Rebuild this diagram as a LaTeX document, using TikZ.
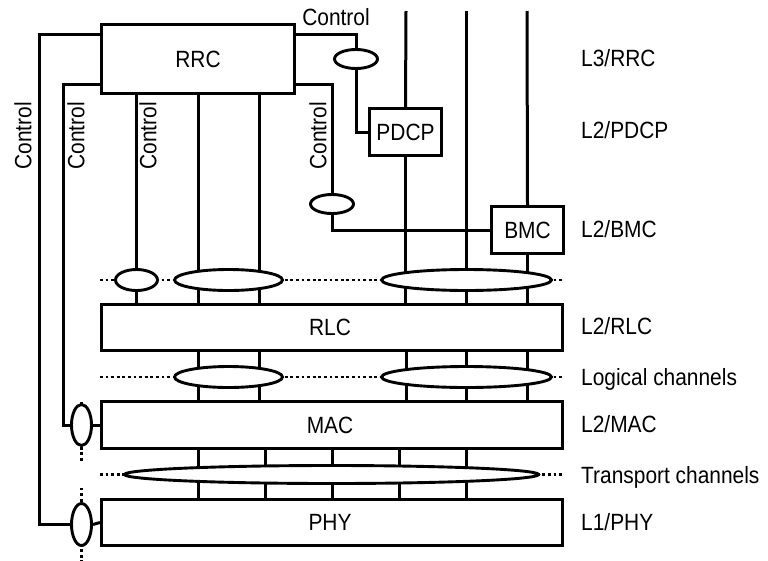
\documentclass[tikz,border=0pt]{standalone}
\usepackage{fontspec}
\setmainfont{Liberation Sans}[FakeStretch=0.89]
\usetikzlibrary{shapes.geometric,backgrounds}
\begin{document}
\begin{tikzpicture}[x=1pt,y=-1pt,
  conn/.style={draw,line width=3pt},
  boxn/.style={draw,rectangle,line width=3pt,fill=white,inner sep=0pt},
  ell/.style={draw,ellipse,line width=2.9pt,fill=white,inner sep=0pt},
  dots/.style={draw,line width=2.8pt,dash pattern=on 2.8pt off 2.8pt},
  txt/.style={inner sep=0pt,text height=16.8pt,text depth=0pt,font=\fontsize{23.5}{28}\selectfont},
  lbl/.style={txt,anchor=west},
]
\useasboundingbox (0,0) rectangle (768,560);
% boxes
\node[boxn,minimum width=193pt,minimum height=69pt] (rrc) at (198,59) {};
\node[txt] (rrct) at (198,59) {RRC};
\node[boxn,minimum width=72pt,minimum height=47pt] (pdcp) at (405.5,132) {};
\node[txt] (pdcpt) at (405.5,132) {PDCP};
\node[boxn,minimum width=72pt,minimum height=47pt] (bmc) at (527.5,230) {};
\node[txt] (bmct) at (527.5,230) {BMC};
\node[boxn,minimum width=461pt,minimum height=46pt] (rlc) at (332,327.5) {};
\node[txt] (rlct) at (330,327.5) {RLC};
\node[boxn,minimum width=461pt,minimum height=47pt] (mac) at (332,425) {};
\node[txt] (mact) at (330,425) {MAC};
\node[boxn,minimum width=461pt,minimum height=46pt] (phy) at (332,522.5) {};
\node[txt] (phyt) at (330,522.5) {PHY};
% ellipses
\node[ell,minimum width=43pt,minimum height=19pt] (eC1) at (356,59) {};
\node[ell,minimum width=43pt,minimum height=19pt] (eC2) at (332,204) {};
\node[ell,minimum width=42pt,minimum height=21pt] (e1) at (136.5,280) {};
\node[ell,minimum width=108pt,minimum height=21pt] (e2) at (228.5,280) {};
\node[ell,minimum width=170pt,minimum height=21pt] (e3) at (466.5,280) {};
\node[ell,minimum width=108pt,minimum height=21pt] (e4) at (228.5,377) {};
\node[ell,minimum width=170pt,minimum height=21pt] (e5) at (466.5,377) {};
\node[ell,minimum width=20pt,minimum height=41pt] (eMac) at (81.5,425) {};
\node[ell,minimum width=20pt,minimum height=42pt] (ePhy) at (81.5,524.5) {};
\node[ell,minimum width=414pt,minimum height=18pt] (tr) at (331.5,474.5) {};
% coordinates
\coordinate (t1) at (406,11);
\coordinate (t2) at (466.5,11);
\coordinate (t3) at (527,11);
\coordinate (xa) at (198.5,0);
\coordinate (xb) at (259.5,0);
\coordinate (xc) at (265.5,0);
\coordinate (xd) at (332.5,0);
\coordinate (xe) at (399.5,0);
\coordinate (cy1) at (0,34.5);
\coordinate (cy2) at (0,84.5);
\coordinate (xo) at (39.5,0);
\coordinate (xi) at (63.5,0);
\begin{pgfonlayer}{background}
  % data lines
  \path[conn] (t1) -- (pdcp.north);
  \path[conn] (pdcp.south) -- (pdcp.south |- rlc.north);
  \path[conn] (t2) -- (t2 |- rlc.north);
  \path[conn] (t3) -- (bmc.north);
  \path[conn] (bmc.south) -- (bmc.south |- rlc.north);
  \path[conn] (rrc.south -| e1) -- (rlc.north -| e1);
  \path[conn] (rrc.south -| xa) -- (rlc.north -| xa);
  \path[conn] (rrc.south -| xb) -- (rlc.north -| xb);
  \foreach \c in {xa,xb,t1,t2,t3}
    \path[conn] (rlc.south -| \c) -- (mac.north -| \c);
  \foreach \c in {xa,xc,xd,xe,t2}
    \path[conn] (mac.south -| \c) -- (phy.north -| \c);
  % control lines
  \path[conn] (rrc.west |- cy1) -| (xo |- ePhy) -- (ePhy.west);
  \path[conn] (rrc.west |- cy2) -| (xi |- eMac) -- (eMac.west);
  \path[conn] (rrc.east |- cy1) -| (eC1.north);
  \path[conn] (eC1.south) |- (pdcp.west);
  \path[conn] (rrc.east |- cy2) -| (eC2.north);
  \path[conn] (eC2.south) |- (bmc.west);
  \path[conn] (eMac.east) -- (mac.west);
  \path[conn] (ePhy.east) -- (phy.west);
  % dotted
  \path[dots] (rlc.west |- e1) -- (rlc.east |- e1);
  \path[dots] (rlc.west |- e4) -- (rlc.east |- e4);
  \path[dots] (mac.west |- tr) -- (mac.east |- tr);
  \path[dots] ([yshift=23pt]eMac.center) -- ([yshift=-37pt]eMac.center);
  \path[dots] ([yshift=37pt]ePhy.center) -- ([yshift=-37pt]ePhy.center);
\end{pgfonlayer}
% labels
\node[txt] (lc0) at (336,17) {Control};
\node[txt,rotate=90] (lc1) at (23,136) {Control};
\node[txt,rotate=90] (lc2) at (76,136) {Control};
\node[txt,rotate=90] (lc3) at (148,136) {Control};
\node[txt,rotate=90] (lc4) at (318,136) {Control};
\node[lbl] (r1) at (581,58) {L3/RRC};
\node[lbl] (r2) at (581,130) {L2/PDCP};
\node[lbl] (r3) at (581,229) {L2/BMC};
\node[lbl] (r4) at (581,326) {L2/RLC};
\node[lbl] (r5) at (581,377) {Logical channels};
\node[lbl] (r6) at (581,424) {L2/MAC};
\node[lbl] (r7) at (581,475) {Transport channels};
\node[lbl] (r8) at (581,522) {L1/PHY};
\end{tikzpicture}
\end{document}
